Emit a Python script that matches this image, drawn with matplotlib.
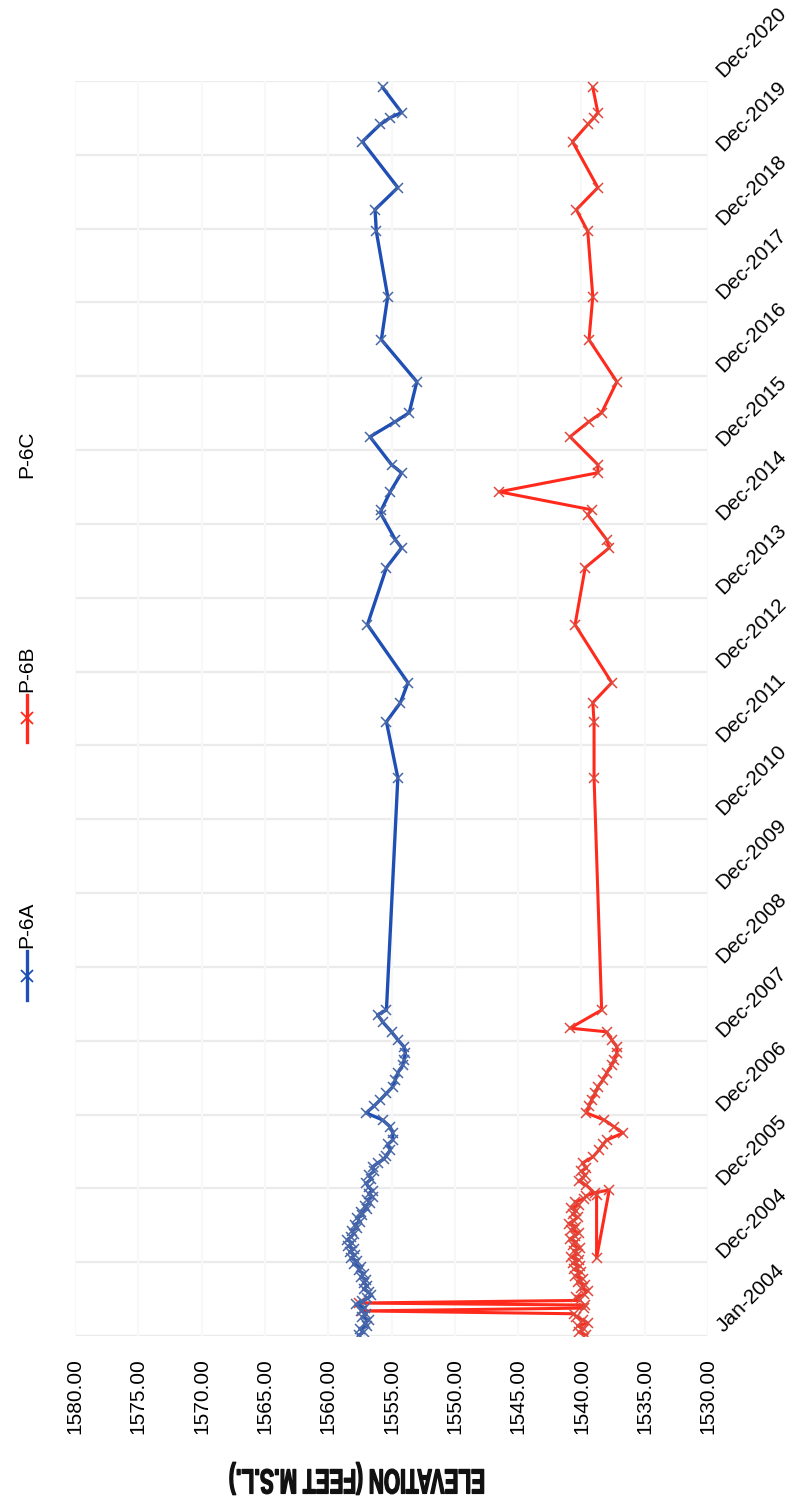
import matplotlib
matplotlib.use('Agg')
import matplotlib.pyplot as plt
import matplotlib.dates as mdates
from matplotlib.lines import Line2D
from matplotlib import patheffects
from matplotlib.transforms import Affine2D
import numpy as np
import pandas as pd

plt.rcParams['font.family'] = ['Liberation Sans', 'DejaVu Sans']

# ---------------- data ----------------
p6a_dates = [
    '2004-01-05', '2004-01-20', '2004-02-05', '2004-02-20', '2004-03-05', '2004-03-20',
    '2004-04-05', '2004-04-20', '2004-05-05', '2004-05-20', '2004-06-05', '2004-06-20',
    '2004-07-05', '2004-07-20', '2004-08-05', '2004-08-20', '2004-09-05', '2004-09-20',
    '2004-10-05', '2004-10-20', '2004-11-05', '2004-11-20', '2004-12-05', '2004-12-20',
    '2005-01-05', '2005-01-20', '2005-02-05', '2005-02-20', '2005-03-05', '2005-03-20',
    '2005-04-05', '2005-04-20', '2005-05-05', '2005-05-20', '2005-06-05', '2005-06-20',
    '2005-07-05', '2005-07-20', '2005-08-05', '2005-08-20', '2005-09-05', '2005-09-20',
    '2005-10-05', '2005-10-20', '2005-11-05', '2005-11-20', '2005-12-05', '2005-12-20',
    '2006-01-05', '2006-01-25', '2006-02-15', '2006-03-05', '2006-03-25', '2006-04-15',
    '2006-05-05', '2006-05-25', '2006-06-10',
    '2006-07-09', '2006-08-05', '2006-08-27', '2006-10-01', '2006-10-31', '2006-12-04',
    '2007-01-08', '2007-02-10', '2007-03-13', '2007-04-15', '2007-05-17', '2007-06-20',
    '2007-07-25', '2007-09-02', '2007-09-27', '2007-11-01', '2007-11-30',
    '2008-01-04', '2008-02-13', '2008-04-02', '2008-05-07', '2008-05-31',
    '2011-07-23', '2012-04-25', '2012-07-28', '2012-11-04', '2013-08-18', '2014-05-27',
    '2014-09-02', '2014-10-12', '2015-02-13', '2015-03-09', '2015-06-06', '2015-09-08',
    '2015-10-18', '2016-03-04', '2016-05-18', '2016-07-01', '2016-12-01', '2017-06-27',
    '2018-01-26', '2018-12-15', '2019-04-01', '2019-07-19', '2020-03-02', '2020-05-26',
    '2020-06-29', '2020-07-24', '2020-11-25',
]
p6a_elev = [
    1557.6, 1557.2, 1557.5, 1556.9, 1557.1, 1556.8, 1557.3, 1557.0, 1557.4, 1557.1, 1557.8, 1557.3,
    1556.9, 1556.6, 1556.8, 1557.2, 1556.9, 1557.2, 1557.0, 1557.4, 1557.2, 1557.6, 1557.4, 1558.0,
    1557.7, 1558.2, 1557.9, 1558.3, 1558.0, 1558.4, 1558.1, 1558.5, 1558.2, 1558.0, 1558.1, 1557.7,
    1557.9, 1557.5, 1557.7, 1557.3, 1557.4, 1556.9, 1557.1, 1556.7, 1556.9, 1556.5, 1556.8, 1556.5,
    1556.8, 1557.0, 1556.6, 1556.8, 1556.4, 1556.5, 1556.1, 1555.6, 1555.4,
    1555.1, 1555.3, 1554.9, 1554.9, 1555.1, 1555.7,
    1557.0, 1556.4, 1555.9, 1555.4, 1554.9, 1554.7, 1554.5, 1554.1, 1554.0, 1553.9, 1554.0,
    1554.5, 1555.0, 1555.7, 1556.1, 1555.4,
    1554.5, 1555.4, 1554.3, 1553.7, 1556.9, 1555.4, 1554.2, 1554.7, 1555.8, 1555.8, 1555.1, 1554.2,
    1555.0, 1556.7, 1554.7, 1553.6, 1553.0, 1555.8, 1555.3, 1556.2, 1556.3, 1554.5, 1557.3, 1555.9,
    1555.1, 1554.2, 1555.7,
]

p6b_dates = [
    '2004-01-05', '2004-01-20', '2004-02-05', '2004-02-20', '2004-03-05', '2004-03-20',
    '2004-04-05', '2004-04-20', '2004-05-04', '2004-05-18', '2004-06-02', '2004-06-12',
    '2004-06-25', '2004-07-10', '2004-07-25', '2004-08-10', '2004-08-25', '2004-09-10',
    '2004-09-25', '2004-10-10', '2004-10-25', '2004-11-10', '2004-11-25', '2004-12-10',
    '2004-12-25',
    '2005-01-10', '2005-01-25', '2005-02-10', '2005-02-25', '2005-03-10', '2005-03-25',
    '2005-04-10', '2005-04-25', '2005-05-10', '2005-05-25', '2005-06-10', '2005-06-25',
    '2005-07-10', '2005-07-25', '2005-08-10', '2005-08-25', '2005-09-10', '2005-09-25',
    '2005-10-10', '2005-10-25', '2005-11-10', '2005-11-25', '2005-12-10', '2005-12-23',
    '2005-01-21', '2005-11-28',
    '2006-01-15', '2006-02-05', '2006-02-20', '2006-03-07', '2006-03-25', '2006-04-10',
    '2006-05-06', '2006-06-04', '2006-07-09', '2006-08-05', '2006-08-27', '2006-10-01',
    '2006-10-31', '2006-12-04',
    '2007-01-08', '2007-02-10', '2007-03-13', '2007-04-15', '2007-05-17', '2007-06-20',
    '2007-07-25', '2007-09-02', '2007-09-27', '2007-11-01', '2007-11-30',
    '2008-01-04', '2008-02-13', '2008-03-02', '2008-05-31',
    '2011-07-23', '2012-04-25', '2012-07-28', '2012-11-04', '2013-08-18', '2014-05-27',
    '2014-09-02', '2014-10-12', '2015-02-13', '2015-03-09', '2015-06-06', '2015-09-08',
    '2015-10-18', '2016-03-04', '2016-05-18', '2016-07-01', '2016-12-01', '2017-06-27',
    '2018-01-26', '2018-12-15', '2019-04-01', '2019-07-19', '2020-03-02', '2020-05-26',
    '2020-06-29', '2020-07-24', '2020-11-25',
]
p6b_elev = [
    1539.6, 1540.2, 1539.8, 1540.3, 1539.5, 1539.9, 1540.4, 1540.6, 1557.3, 1539.8, 1539.7, 1557.6,
    1540.1, 1540.4, 1539.8, 1539.5, 1540.0, 1539.7, 1540.3, 1539.9, 1540.5, 1540.0, 1540.6, 1540.1,
    1540.7,
    1540.2, 1540.8, 1540.3, 1540.6, 1540.1, 1540.7, 1540.4, 1540.9, 1540.5, 1540.2, 1540.8, 1540.4,
    1541.0, 1540.6, 1540.3, 1540.7, 1540.4, 1540.8, 1540.2, 1540.5, 1539.8, 1539.6, 1538.9, 1537.8,
    1538.8, 1538.8,
    1539.6, 1540.2, 1539.9, 1539.7, 1540.0, 1539.6, 1539.9, 1539.1, 1538.6, 1538.3, 1538.0, 1536.7,
    1537.4, 1538.2,
    1539.6, 1539.4, 1539.2, 1538.9, 1538.7, 1538.3, 1538.0, 1537.6, 1537.4, 1537.2, 1537.2,
    1537.6, 1538.0, 1540.9, 1538.4,
    1539.0, 1539.0, 1539.1, 1537.6, 1540.5, 1539.7, 1537.8, 1538.0, 1539.5, 1539.2, 1546.5, 1538.7,
    1538.7, 1540.9, 1539.4, 1538.4, 1537.2, 1539.4, 1539.1, 1539.5, 1540.4, 1538.7, 1540.7, 1539.5,
    1539.0, 1538.7, 1539.1,
]

series_names = ['P-6A', 'P-6B', 'P-6C']
series_colors = ['#1f4fb4', '#ff2a1c', '#2a9a3a']

elev_ticks = [1580, 1575, 1570, 1565, 1560, 1555, 1550, 1545, 1540, 1535, 1530]
date_tick_labels = ['Jan-2004', 'Dec-2004', 'Dec-2005', 'Dec-2006', 'Dec-2007', 'Dec-2008',
                    'Dec-2009', 'Dec-2010', 'Dec-2011', 'Dec-2012', 'Dec-2013', 'Dec-2014',
                    'Dec-2015', 'Dec-2016', 'Dec-2017', 'Dec-2018', 'Dec-2019', 'Dec-2020']
axis_title = 'ELEVATION (FEET M.S.L.)'

# ---------------- figure ----------------
W, H = 809, 1510
fig = plt.figure(figsize=(W / 100, H / 100), dpi=100)
ax = fig.add_axes([75 / W, (H - 1336) / H, (708 - 75) / W, (1336 - 81) / H])

start = pd.Timestamp('2004-01-01')
tick_dates = [start + pd.Timedelta(days=365 * k) for k in range(len(date_tick_labels))]
tick_nums = mdates.date2num([d.to_pydatetime() for d in tick_dates])

a_y = mdates.date2num(pd.to_datetime(p6a_dates).to_pydatetime())
b_y = mdates.date2num(pd.to_datetime(p6b_dates).to_pydatetime())

# grid (very light, as in the scanned original)
for t in tick_nums:
    ax.axhline(t, color='#ebebeb', lw=1.6, zorder=0)
for e in elev_ticks:
    ax.axvline(e, color='#f8f8f8', lw=1.6, zorder=0)

ax.plot(p6b_elev, b_y, color=series_colors[1], lw=2.2, marker='x', ms=7, mew=1.1,
        mec='#e0483c', zorder=3)
ax.plot(p6a_elev, a_y, color=series_colors[0], lw=2.4, marker='x', ms=7, mew=1.1,
        mec='#4a68a8', zorder=4)

ax.set_xlim(elev_ticks[0], elev_ticks[-1])
ax.set_ylim(tick_nums[0], tick_nums[-1])
ax.set_xticks(elev_ticks)
ax.set_xticklabels(['%.2f' % v for v in elev_ticks], rotation=90, fontsize=15,
                   va='top', ha='center')
ax.set_yticks(tick_nums)
ax.set_yticklabels(date_tick_labels, fontsize=15)
ax.yaxis.tick_right()
ax.tick_params(axis='x', length=0, pad=16)
ax.tick_params(axis='y', length=0, pad=13)
for lab in ax.get_yticklabels():
    lab.set_rotation(45)
    lab.set_rotation_mode('anchor')
    lab.set_ha('left')
    lab.set_va('bottom')
for s in ax.spines.values():
    s.set_visible(False)


# condensed bold title (real text, squeezed horizontally by a path effect)
class Squeeze(patheffects.AbstractPathEffect):
    def __init__(self, sx, stroke=0.0):
        super().__init__()
        self.sx = sx
        self.stroke = stroke

    def draw_path(self, renderer, gc, tpath, affine, rgbFace=None):
        gc0 = renderer.new_gc()
        gc0.copy_properties(gc)
        if self.stroke > 0:
            gc0.set_linewidth(self.stroke)
            gc0.set_foreground(rgbFace)
        renderer.draw_path(gc0, tpath, Affine2D().scale(self.sx, 1.0) + affine, rgbFace)
        gc0.restore()


fig.text(485 / W, (H - 1479) / H, axis_title, rotation=180, fontsize=25,
         fontweight='bold', ha='right', va='center', color='#111111',
         path_effects=[Squeeze(0.6, stroke=1.0)])

# legend (rotated, drawn on the figure)
leg_x = 27 / W
legend_items = [
    (series_names[0], series_colors[0], 951, 1000, 948),
    (series_names[1], series_colors[1], 695, 742, 692),
    (series_names[2], None, None, None, 478),
]
for name, col, y0, y1, ty in legend_items:
    if col is not None:
        fig.add_artist(Line2D([leg_x, leg_x], [(H - y0) / H, (H - y1) / H],
                              transform=fig.transFigure, color=col, lw=2.4))
        fig.add_artist(Line2D([leg_x], [(H - (y0 + y1) / 2) / H], transform=fig.transFigure,
                              color=col, marker='x', ms=8, mew=1.3, lw=0))
    fig.text(leg_x, (H - ty) / H, name, rotation=90, fontsize=15, ha='center', va='bottom')

fig.savefig('out.png', dpi=100, facecolor='white')
